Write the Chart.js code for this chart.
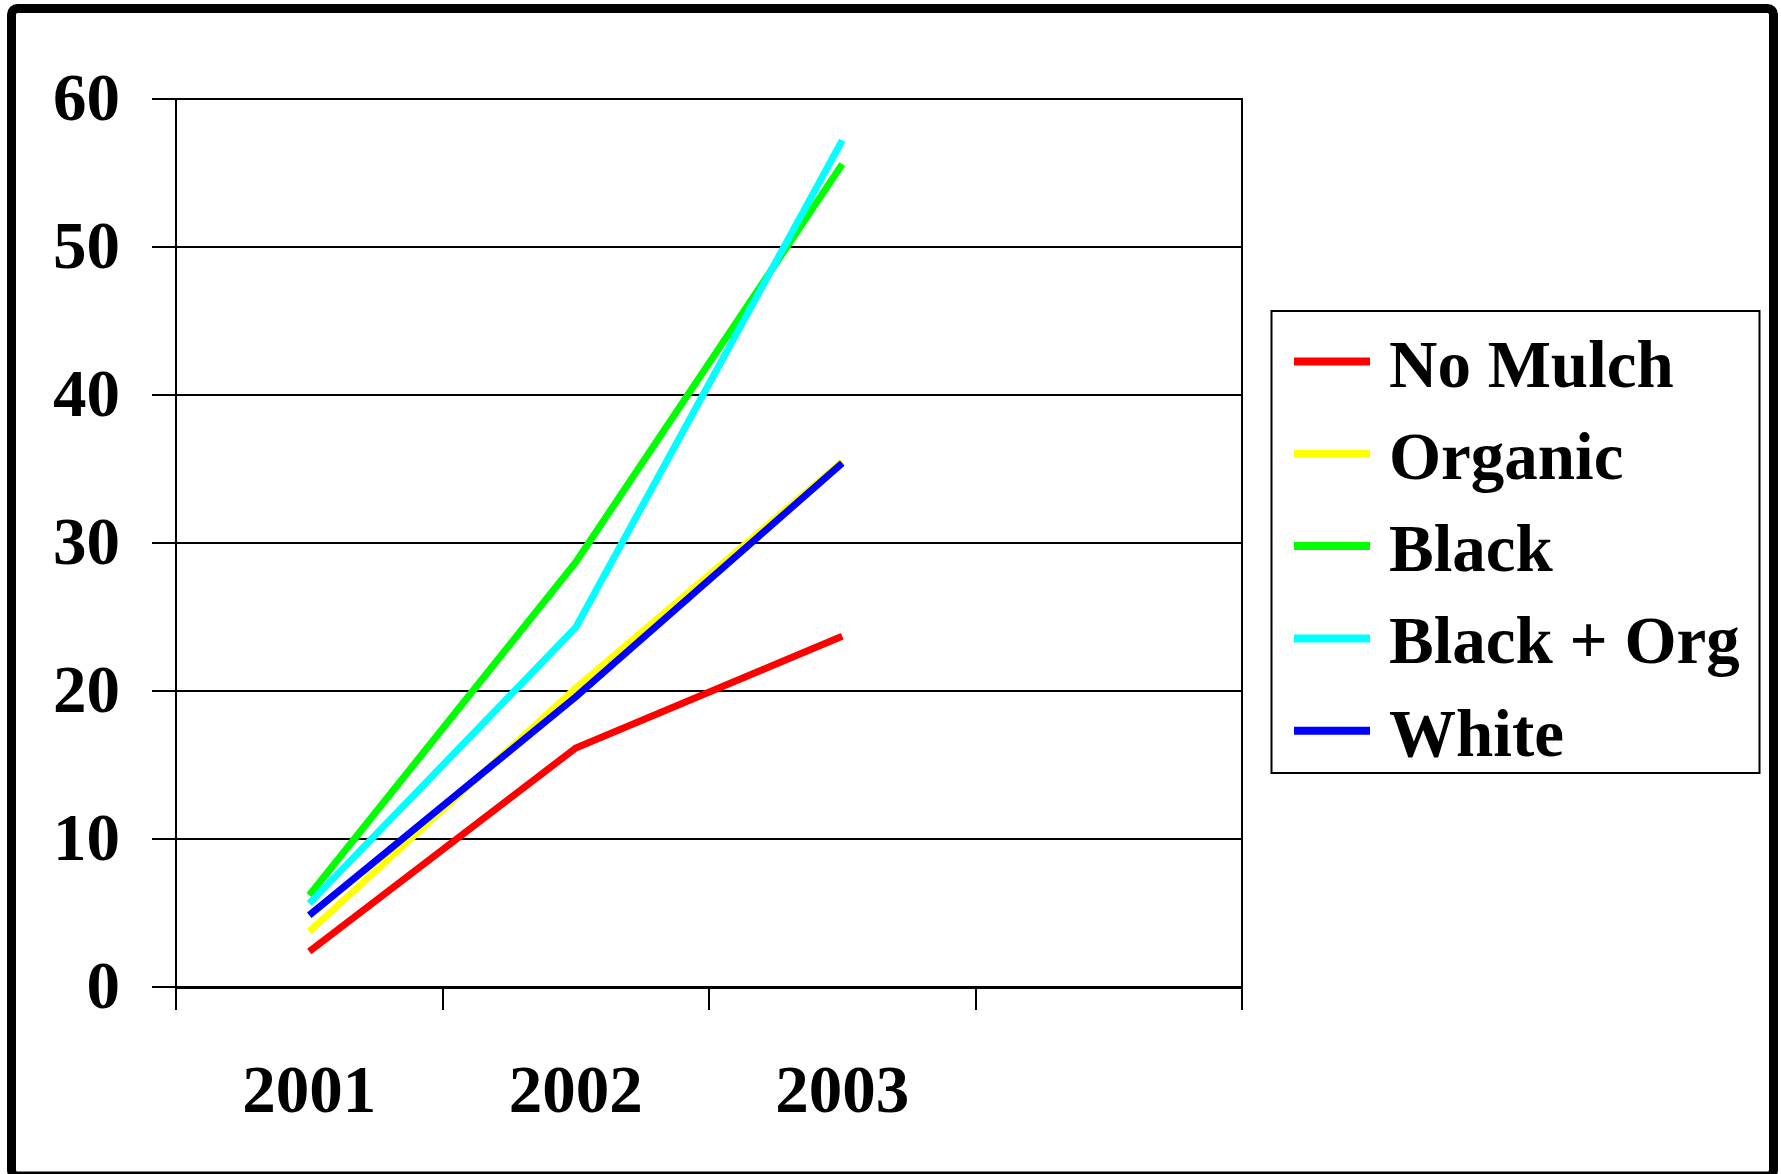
<!DOCTYPE html>
<html>
<head>
<meta charset="utf-8">
<title>Mulch comparison 2001-2003</title>
<script src="https://cdn.jsdelivr.net/npm/chart.js@4/dist/chart.umd.min.js"></script>
<style>
  html, body { margin: 0; padding: 0; background: #ffffff; }
  canvas { display: block; }
</style>
</head>
<body>
<canvas id="chart" width="1781" height="1174"></canvas>
<script>
// Categories (the fourth slot is an empty year column)
const years = ['2001', '2002', '2003', ''];
// Value axis ticks
const yTicks = [0, 10, 20, 30, 40, 50, 60];
// Series names and colours
const seriesNames = ['No Mulch', 'Organic', 'Black', 'Black + Org', 'White'];
const seriesColors = ['#FF0000', '#FFFF00', '#00FF00', '#00FFFF', '#0000FF'];
// Series values per year
const noMulch  = [2.4, 16.15, 23.7, null];
const organic  = [3.75, 20.2, 35.5, null];
const black    = [6.2, 28.7, 55.6, null];
const blackOrg = [5.65, 24.3, 57.2, null];
const white    = [4.85, 19.6, 35.4, null];

const seriesValues = [noMulch, organic, black, blackOrg, white];

const FONT_FAMILY = "'Liberation Serif', 'Times New Roman', serif";
const FONT_SIZE = 67;

// Thick rounded frame round the whole drawing
const framePlugin = {
  id: 'outerFrame',
  afterDraw(chart) {
    const ctx = chart.ctx;
    ctx.save();
    ctx.strokeStyle = '#000';
    ctx.lineWidth = 9;
    ctx.beginPath();
    if (ctx.roundRect) {
      ctx.roundRect(11.5, 8.5, 1773.5 - 11.5, 1176 - 8.5, 6);
    } else {
      ctx.rect(11.5, 8.5, 1773.5 - 11.5, 1176 - 8.5);
    }
    ctx.stroke();
    ctx.restore();
  }
};

// Boxed legend to the right of the plot
const boxedLegend = {
  id: 'boxedLegend',
  afterDraw(chart) {
    const ctx = chart.ctx;
    const box = { x: 1271.5, y: 311, w: 488, h: 462 };
    ctx.save();
    ctx.strokeStyle = '#000';
    ctx.lineWidth = 2;
    ctx.strokeRect(box.x, box.y, box.w, box.h);
    ctx.font = 'bold ' + FONT_SIZE + 'px ' + FONT_FAMILY;
    ctx.textAlign = 'left';
    ctx.textBaseline = 'alphabetic';
    chart.data.datasets.forEach((ds, i) => {
      const rowY = 361.5 + i * 92.3;
      ctx.strokeStyle = ds.borderColor;
      ctx.lineWidth = 8;
      ctx.lineCap = 'butt';
      ctx.beginPath();
      ctx.moveTo(1294, rowY);
      ctx.lineTo(1370, rowY);
      ctx.stroke();
      ctx.fillStyle = '#000';
      ctx.fillText(ds.label, 1389, rowY + 25);
    });
    ctx.restore();
  }
};

const datasets = seriesNames.map((name, i) => ({
  label: name,
  data: seriesValues[i],
  borderColor: seriesColors[i],
  backgroundColor: seriesColors[i],
  borderWidth: 7,
  pointRadius: 0,
  pointHoverRadius: 0,
  tension: 0,
  fill: false,
  spanGaps: false,
  borderCapStyle: 'butt',
  borderJoinStyle: 'miter',
  // later series are painted over earlier ones
  order: seriesNames.length - i
}));

new Chart(document.getElementById('chart'), {
  type: 'line',
  data: { labels: years, datasets: datasets },
  options: {
    responsive: false,
    animation: false,
    devicePixelRatio: 1,
    layout: { padding: { left: 0, top: 99, right: 1781 - 1242, bottom: 0 } },
    plugins: {
      legend: { display: false },
      tooltip: { enabled: false }
    },
    events: [],
    scales: {
      x: {
        type: 'category',
        offset: true,
        afterFit(scale) { scale.height = 1174 - 987; },
        grid: {
          offset: true,
          drawOnChartArea: false,
          drawTicks: true,
          tickLength: 23,
          tickColor: '#000',
          tickWidth: 2,
          color: '#000',
          lineWidth: 2
        },
        border: { display: true, color: '#000', width: 3 },
        ticks: {
          color: '#000',
          padding: 44,
          maxRotation: 0,
          autoSkip: false,
          font: { family: FONT_FAMILY, size: FONT_SIZE, weight: 'bold' }
        }
      },
      y: {
        position: 'left',
        min: 0,
        max: 60,
        afterFit(scale) { scale.width = 176; },
        afterBuildTicks(scale) { scale.ticks = yTicks.map(v => ({ value: v })); },
        grid: {
          drawOnChartArea: true,
          drawTicks: true,
          tickLength: 24,
          color: '#000',
          lineWidth: 2
        },
        border: { display: true, color: '#000', width: 2 },
        ticks: {
          color: '#000',
          padding: 32,
          labelOffset: 4,
          font: { family: FONT_FAMILY, size: FONT_SIZE, weight: 'bold' }
        }
      },
      yRight: {
        position: 'right',
        min: 0,
        max: 60,
        afterFit(scale) { scale.width = 0; },
        grid: { display: false, drawTicks: false },
        border: { display: true, color: '#000', width: 2 },
        ticks: { display: false }
      }
    }
  },
  plugins: [framePlugin, boxedLegend]
});
</script>
</body>
</html>
